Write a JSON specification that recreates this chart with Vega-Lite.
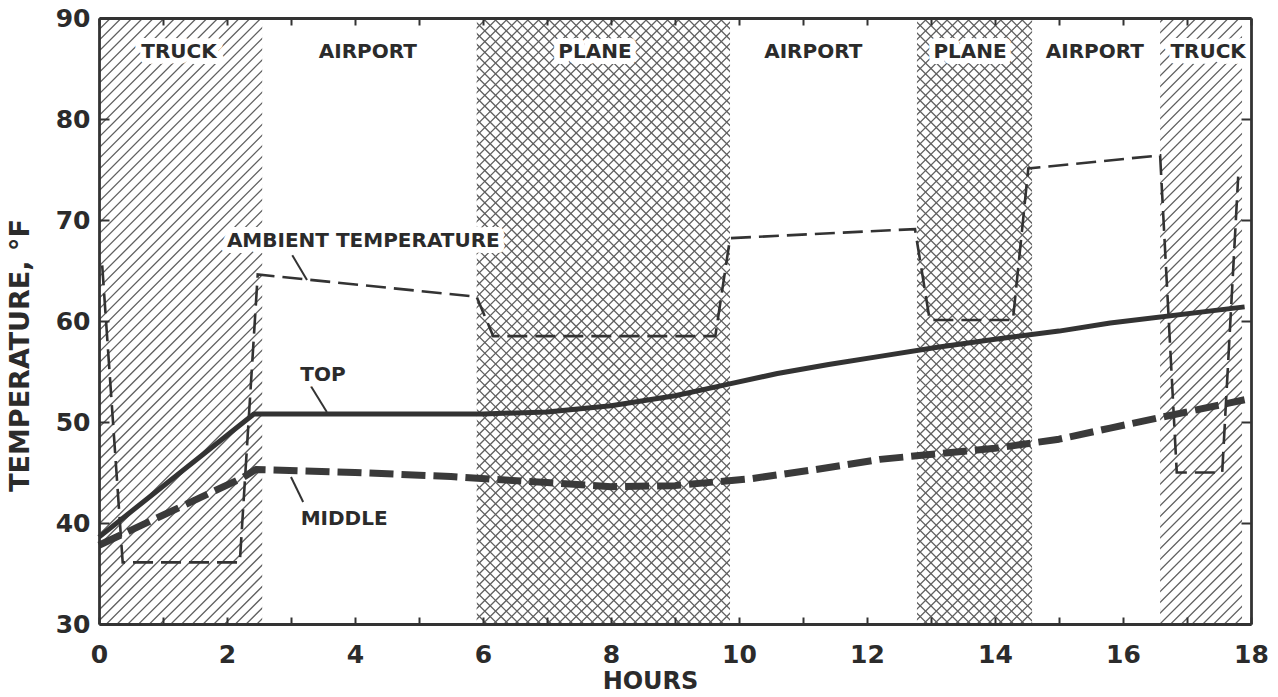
{
  "$schema": "https://vega.github.io/schema/vega-lite/v6.json",
  "width": 1152,
  "height": 606,
  "autosize": "none",
  "padding": {"left": 99, "top": 18, "right": 27, "bottom": 73},
  "background": "white",
  "config": {"view": {"stroke": null}, "font": "DejaVu Sans"},
  "resolve": {"axis": {"x": "independent", "y": "independent"}},
  "datasets": {
    "regions": [
      {"start": 0, "end": 2.55, "kind": "truck"},
      {"start": 2.55, "end": 5.9, "kind": "airport"},
      {"start": 5.9, "end": 9.86, "kind": "plane"},
      {"start": 9.86, "end": 12.78, "kind": "airport"},
      {"start": 12.78, "end": 14.58, "kind": "plane"},
      {"start": 14.58, "end": 16.58, "kind": "airport"},
      {"start": 16.58, "end": 17.86, "kind": "truck"},
      {"start": 17.86, "end": 18, "kind": "none"}
    ],
    "series": [
      {"series": "ambient", "hour": 0.05, "temp": 65.5},
      {"series": "ambient", "hour": 0.37, "temp": 36.1},
      {"series": "ambient", "hour": 2.2, "temp": 36.1},
      {"series": "ambient", "hour": 2.48, "temp": 64.6},
      {"series": "ambient", "hour": 5.9, "temp": 62.4},
      {"series": "ambient", "hour": 6.16, "temp": 58.5},
      {"series": "ambient", "hour": 9.63, "temp": 58.5},
      {"series": "ambient", "hour": 9.86, "temp": 68.2},
      {"series": "ambient", "hour": 12.75, "temp": 69.1},
      {"series": "ambient", "hour": 12.98, "temp": 60.1},
      {"series": "ambient", "hour": 14.28, "temp": 60.1},
      {"series": "ambient", "hour": 14.52, "temp": 75.1},
      {"series": "ambient", "hour": 16.58, "temp": 76.4},
      {"series": "ambient", "hour": 16.84, "temp": 45.0},
      {"series": "ambient", "hour": 17.55, "temp": 45.0},
      {"series": "ambient", "hour": 17.8, "temp": 74.3},
      {"series": "top", "hour": 0, "temp": 38.6},
      {"series": "top", "hour": 2.42, "temp": 50.8},
      {"series": "top", "hour": 6.0, "temp": 50.8},
      {"series": "top", "hour": 7.0, "temp": 51.0},
      {"series": "top", "hour": 8.0, "temp": 51.6},
      {"series": "top", "hour": 9.0, "temp": 52.6},
      {"series": "top", "hour": 9.8, "temp": 53.7},
      {"series": "top", "hour": 10.6, "temp": 54.8},
      {"series": "top", "hour": 11.4, "temp": 55.7},
      {"series": "top", "hour": 12.2, "temp": 56.5},
      {"series": "top", "hour": 13.1, "temp": 57.4},
      {"series": "top", "hour": 14.0, "temp": 58.2},
      {"series": "top", "hour": 15.0, "temp": 59.0},
      {"series": "top", "hour": 15.8, "temp": 59.8},
      {"series": "top", "hour": 17.9, "temp": 61.4},
      {"series": "middle", "hour": 0, "temp": 37.8},
      {"series": "middle", "hour": 2.25, "temp": 44.5},
      {"series": "middle", "hour": 2.45, "temp": 45.3},
      {"series": "middle", "hour": 4.0, "temp": 45.0},
      {"series": "middle", "hour": 5.5, "temp": 44.6},
      {"series": "middle", "hour": 7.0, "temp": 44.0},
      {"series": "middle", "hour": 8.0, "temp": 43.6},
      {"series": "middle", "hour": 9.0, "temp": 43.7},
      {"series": "middle", "hour": 10.2, "temp": 44.4},
      {"series": "middle", "hour": 11.2, "temp": 45.3},
      {"series": "middle", "hour": 12.2, "temp": 46.3},
      {"series": "middle", "hour": 14.0, "temp": 47.4},
      {"series": "middle", "hour": 15.0, "temp": 48.3},
      {"series": "middle", "hour": 15.8, "temp": 49.4},
      {"series": "middle", "hour": 17.9, "temp": 52.2}
    ],
    "labels": [
      {"text": "TRUCK", "hour": 1.25, "temp": 86.6},
      {"text": "AIRPORT", "hour": 4.2, "temp": 86.6},
      {"text": "PLANE", "hour": 7.75, "temp": 86.6},
      {"text": "AIRPORT", "hour": 11.16, "temp": 86.6},
      {"text": "PLANE", "hour": 13.61, "temp": 86.6},
      {"text": "AIRPORT", "hour": 15.56, "temp": 86.6},
      {"text": "TRUCK", "hour": 17.33, "temp": 86.6},
      {"text": "AMBIENT TEMPERATURE", "hour": 4.13, "temp": 67.9},
      {"text": "TOP", "hour": 3.5, "temp": 54.65},
      {"text": "MIDDLE", "hour": 3.83, "temp": 40.4}
    ],
    "leaders": [
      {"x": 3.02, "y": 66.5, "x2": 3.25, "y2": 64.06},
      {"x": 3.3, "y": 53.66, "x2": 3.56, "y2": 50.99},
      {"x": 3.0, "y": 44.55, "x2": 3.19, "y2": 42.08}
    ]
  },
  "layer": [
    {
      "data": {"values": [{}]},
      "mark": {"type": "rule", "clip": true, "strokeWidth": 1700, "strokeDash": [1.3, 6.3], "color": "#606060"},
      "encoding": {
        "x": {"datum": 0, "type": "quantitative", "scale": {"domain": [0, 18], "nice": false}, "axis": null},
        "y": {"datum": 30, "type": "quantitative", "scale": {"domain": [30, 90], "nice": false}, "axis": null},
        "x2": {"datum": 13.73},
        "y2": {"datum": 117.03}
      }
    },
    {
      "data": {"name": "regions"},
      "transform": [{"filter": "datum.kind != 'plane'"}],
      "mark": {"type": "rect", "fill": "white"},
      "encoding": {
        "x": {"field": "start", "type": "quantitative", "scale": {"domain": [0, 18], "nice": false},
          "axis": {"orient": "bottom", "values": [0,1,2,3,4,5,6,7,8,9,10,11,12,13,14,15,16,17,18],
            "labelExpr": "datum.value % 2 === 0 ? datum.label : ''", "labelOverlap": false, "labelFlush": false,
            "tickSize": -7, "tickWidth": 2, "tickColor": "#333", "domainColor": "#333", "domainWidth": 2.8,
            "labelFont": "DejaVu Sans", "labelFontSize": 25, "labelFontWeight": "bold", "labelColor": "#2b2b2b", "labelPadding": 25,
            "grid": false, "title": "HOURS", "titleFont": "DejaVu Sans", "titleFontSize": 24, "titleFontWeight": "bold",
            "titleColor": "#2b2b2b", "titleX": 551, "titleY": 57, "titleBaseline": "middle", "zindex": 1}},
        "x2": {"field": "end"},
        "y": {"datum": 30, "type": "quantitative", "scale": {"domain": [30, 90], "nice": false},
          "axis": {"orient": "left", "values": [30,40,50,60,70,80,90],
            "tickSize": -10, "tickWidth": 2, "tickColor": "#333", "domainColor": "#333", "domainWidth": 2.8,
            "labelFont": "DejaVu Sans", "labelFontSize": 25, "labelFontWeight": "bold", "labelColor": "#2b2b2b", "labelPadding": 19,
            "grid": false, "title": "TEMPERATURE, °F", "titleFont": "DejaVu Sans", "titleFontSize": 27, "titleFontWeight": "bold",
            "titleColor": "#2b2b2b", "titleX": -79, "titleY": 337, "titleAngle": -90, "titleBaseline": "middle", "titleAlign": "center", "zindex": 1}},
        "y2": {"datum": 90}
      }
    },
    {
      "data": {"values": [{}]},
      "mark": {"type": "rule", "clip": true, "strokeWidth": 1700, "strokeDash": [1.3, 6.3], "color": "#606060"},
      "encoding": {
        "x": {"datum": 0, "type": "quantitative", "scale": {"domain": [0, 18], "nice": false}, "axis": null},
        "y": {"datum": 90, "type": "quantitative", "scale": {"domain": [30, 90], "nice": false}, "axis": null},
        "x2": {"datum": 13.73},
        "y2": {"datum": 2.97}
      }
    },
    {
      "data": {"name": "regions"},
      "transform": [{"filter": "datum.kind == 'airport' || datum.kind == 'none'"}],
      "mark": {"type": "rect", "fill": "white"},
      "encoding": {
        "x": {"field": "start", "type": "quantitative", "scale": {"domain": [0, 18], "nice": false},
          "axis": {"orient": "top", "values": [0,1,2,3,4,5,6,7,8,9,10,11,12,13,14,15,16,17,18], "labels": false,
            "tickSize": -7, "tickWidth": 2, "tickColor": "#333", "domainColor": "#333", "domainWidth": 2.8,
            "grid": false, "title": null, "zindex": 1}},
        "x2": {"field": "end"},
        "y": {"datum": 30, "type": "quantitative", "scale": {"domain": [30, 90], "nice": false},
          "axis": {"orient": "right", "values": [30,40,50,60,70,80,90], "labels": false,
            "tickSize": -10, "tickWidth": 2, "tickColor": "#333", "domainColor": "#333", "domainWidth": 2.8,
            "grid": false, "title": null, "zindex": 1}},
        "y2": {"datum": 90}
      }
    },
    {
      "data": {"name": "series"},
      "transform": [{"filter": "datum.series == 'ambient'"}],
      "mark": {"type": "line", "stroke": "#333", "strokeWidth": 2.6, "strokeDash": [20, 8]},
      "encoding": {
        "x": {"field": "hour", "type": "quantitative", "scale": {"domain": [0, 18], "nice": false}, "axis": null},
        "y": {"field": "temp", "type": "quantitative", "scale": {"domain": [30, 90], "nice": false}, "axis": null},
        "order": {"field": "hour"}
      }
    },
    {
      "data": {"name": "series"},
      "transform": [{"filter": "datum.series == 'top'"}],
      "mark": {"type": "line", "stroke": "#333", "strokeWidth": 5, "strokeJoin": "round"},
      "encoding": {
        "x": {"field": "hour", "type": "quantitative", "scale": {"domain": [0, 18], "nice": false}, "axis": null},
        "y": {"field": "temp", "type": "quantitative", "scale": {"domain": [30, 90], "nice": false}, "axis": null},
        "order": {"field": "hour"}
      }
    },
    {
      "data": {"name": "series"},
      "transform": [{"filter": "datum.series == 'middle'"}],
      "mark": {"type": "line", "stroke": "#3a3a3a", "strokeWidth": 7, "strokeDash": [24, 8], "strokeJoin": "round"},
      "encoding": {
        "x": {"field": "hour", "type": "quantitative", "scale": {"domain": [0, 18], "nice": false}, "axis": null},
        "y": {"field": "temp", "type": "quantitative", "scale": {"domain": [30, 90], "nice": false}, "axis": null},
        "order": {"field": "hour"}
      }
    },
    {
      "data": {"name": "leaders"},
      "mark": {"type": "rule", "stroke": "#333", "strokeWidth": 2},
      "encoding": {
        "x": {"field": "x", "type": "quantitative", "scale": {"domain": [0, 18], "nice": false}, "axis": null},
        "y": {"field": "y", "type": "quantitative", "scale": {"domain": [30, 90], "nice": false}, "axis": null},
        "x2": {"field": "x2"},
        "y2": {"field": "y2"}
      }
    },
    {
      "data": {"name": "labels"},
      "mark": {"type": "text", "font": "DejaVu Sans", "fontSize": 20, "fontWeight": "bold", "align": "center", "baseline": "middle", "fill": "white", "stroke": "white", "strokeWidth": 12, "strokeJoin": "round"},
      "encoding": {
        "x": {"field": "hour", "type": "quantitative", "scale": {"domain": [0, 18], "nice": false}, "axis": null},
        "y": {"field": "temp", "type": "quantitative", "scale": {"domain": [30, 90], "nice": false}, "axis": null},
        "text": {"field": "text"}
      }
    },
    {
      "data": {"name": "labels"},
      "mark": {"type": "text", "font": "DejaVu Sans", "fontSize": 20, "fontWeight": "bold", "align": "center", "baseline": "middle", "fill": "#2b2b2b"},
      "encoding": {
        "x": {"field": "hour", "type": "quantitative", "scale": {"domain": [0, 18], "nice": false}, "axis": null},
        "y": {"field": "temp", "type": "quantitative", "scale": {"domain": [30, 90], "nice": false}, "axis": null},
        "text": {"field": "text"}
      }
    }
  ]
}
